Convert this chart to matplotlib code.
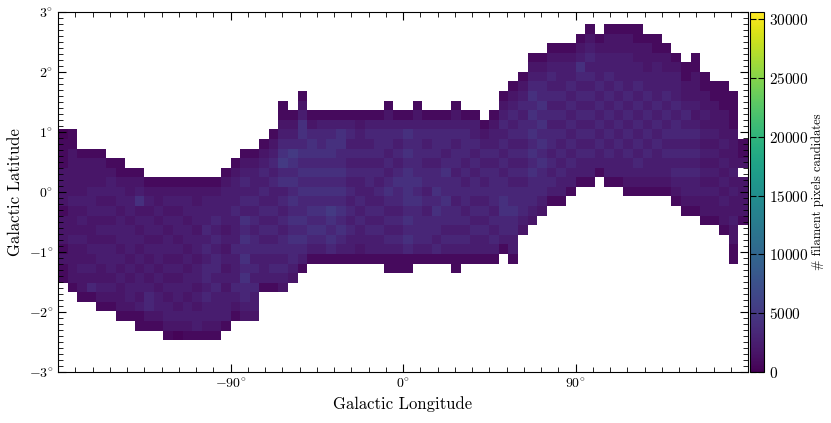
import matplotlib.pyplot as plt
import numpy as np
from matplotlib.ticker import MultipleLocator, FixedLocator, FuncFormatter

plt.rcParams["font.family"] = ["cmr10", "DejaVu Serif"]
plt.rcParams["mathtext.fontset"] = "cm"
plt.rcParams["axes.formatter.use_mathtext"] = True

# histogram bin edges (degrees)
lon_edges = np.arange(-180, 181, 5)
lat_edges = np.linspace(-2.47, 2.80, 34)

# counts per level code
level_counts = [0, 300, 800, 1700, 2500, 3300, 4200, 5200]

# lowest filled latitude bin of every longitude column
col_bottom = [
    6, 5, 4, 4, 3, 3, 2, 2, 1, 1, 1, 0, 0, 0, 0, 0, 0, 1,
    2, 2, 2, 5, 5, 5, 6, 7, 8, 8, 8, 8, 8, 8, 8, 8, 7, 7,
    7, 8, 8, 8, 8, 7, 8, 8, 8, 8, 9, 8, 11, 12, 13, 14, 14, 15,
    16, 16, 17, 16, 16, 15, 15, 15, 15, 15, 14, 13, 13, 12, 12, 11, 8, 12,
]

# level codes per column, bottom to top ("." = empty bin)
col_levels = [
    "2232333233332221", "23333433343333322", "2334334343433332", "2534343334443332",
    "23433443434343332", "2343444343434432", "23334343444344322", "2344343444344332",
    "22434434343436432", "2355434343443432", "2344343443434332", "23443434344343432",
    "13434434343443432", "23443443434434432", "24434344344344332", "23445455454544432",
    "23444545545454432", "24443434343444432", "23454445444544432", "345565656564545432",
    "344545455454544432", "2444545454545432", "24545454544545432", "34545545454657654322",
    "345565656565675432", "2456565565656566432", "2456565656566532", "2456565656565542",
    "2565675656566542", "2456565656556642", "2445454545454542", "2344545445454432",
    "2445454455454542", "2445454545455542", "224545456545455432", "22454545565454542",
    "22565656666565642", "24555565655555432", "2455545455454542", "2545565655455542",
    "2454556556545542", "224545545545545432", "2454545545455542", "2445454554545442",
    "244545454545432", "2454545555454432", "24556655454545432", "2445565545454545432",
    "34555454545545432", "345556565656565432", "34555656565655432", "24545455454545432",
    "24454545454544432", "2445454545454432", "2445454545456432", "24454545454545432",
    "244545454544432", "24454545454544332", "24445454545444332", "234454545454444332",
    "234545454545443322", "23445454545443332", "23444545454444322", "2344545454544332",
    "2345454554544432", "2344545454543322", "23445454543433322", "2334343434343322",
    "233434343433322", "2334343434333222", "223343343433332222", "23333.322",
]

counts = np.full((len(lat_edges) - 1, len(lon_edges) - 1), np.nan)
for i, (lo, levels) in enumerate(zip(col_bottom, col_levels)):
    for k, ch in enumerate(levels):
        if ch != ".":
            counts[lo + k, i] = level_counts[int(ch)]

fig = plt.figure(figsize=(8.31, 4.23), dpi=100)
ax = fig.add_axes([58 / 831, 51 / 423, 690 / 831, 360 / 423])
mesh = ax.pcolormesh(lon_edges, lat_edges, np.ma.masked_invalid(counts),
                     cmap="viridis", vmin=0, vmax=30600)

ax.set_xlim(-180, 180)
ax.set_ylim(-3, 3)
ax.xaxis.set_major_locator(FixedLocator([-90, 0, 90]))
ax.xaxis.set_minor_locator(MultipleLocator(9))
ax.yaxis.set_major_locator(MultipleLocator(1))
ax.yaxis.set_minor_locator(MultipleLocator(0.1))
deg = FuncFormatter(lambda v, p: r"$%d^{\circ}$" % round(v))
ax.xaxis.set_major_formatter(deg)
ax.yaxis.set_major_formatter(deg)
ax.tick_params(which="both", direction="in", top=True, right=True, labelsize=10)
ax.tick_params(which="major", length=6)
ax.tick_params(which="minor", length=3.5)
ax.set_xlabel("Galactic Longitude", fontsize=12)
ax.set_ylabel("Galactic Latitude", fontsize=12)

cax = fig.add_axes([750 / 831, 51 / 423, 14 / 831, 360 / 423])
cb = fig.colorbar(mesh, cax=cax)
cb.set_ticks(np.arange(0, 30001, 5000))
cb.ax.tick_params(direction="in", left=True, right=True, length=4, labelsize=11)
cb.set_label("# filament pixels candidates", fontsize=9, labelpad=2)

fig.savefig("out.png", dpi=100)
